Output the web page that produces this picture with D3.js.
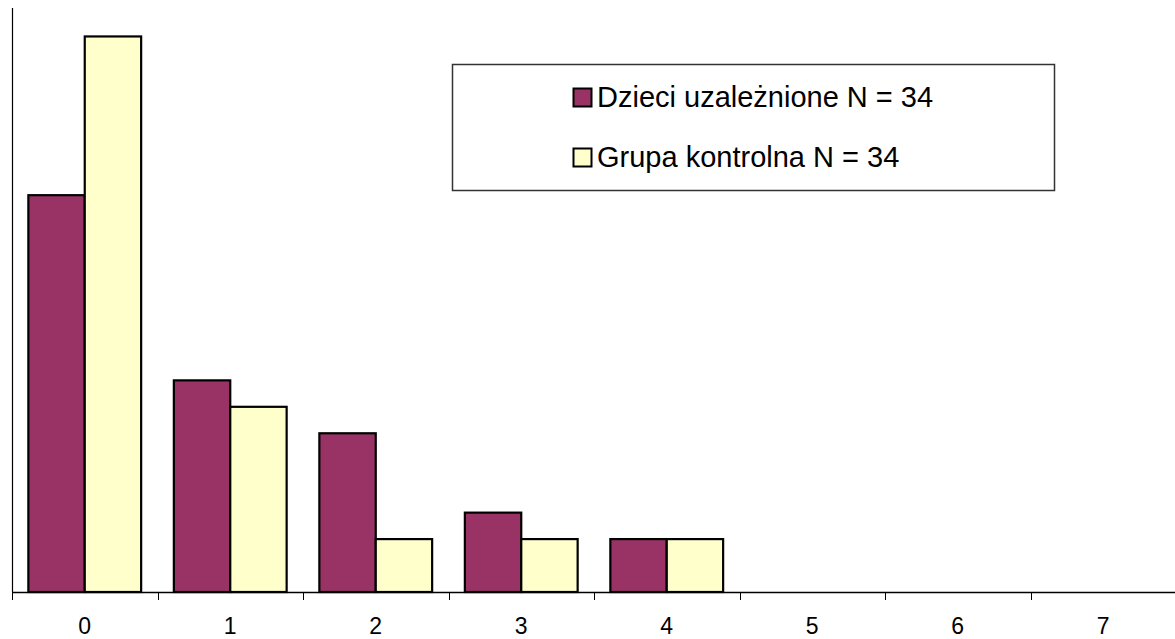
<!DOCTYPE html>
<html>
<head>
<meta charset="utf-8">
<script src="https://cdn.jsdelivr.net/npm/d3@7"></script>
<style>
  html, body { margin: 0; padding: 0; background: #fff; }
  svg { display: block; font-family: "Liberation Sans", Arial, sans-serif; }
</style>
</head>
<body>
<svg id="chart" width="1175" height="639"></svg>
<script>
const categories = ["0", "1", "2", "3", "4", "5", "6", "7"];
const seriesNames = ["Dzieci uzależnione N = 34", "Grupa kontrolna N = 34"];
const addicted = [15, 8, 6, 3, 2, 0, 0, 0];
const control = [21, 7, 2, 2, 2, 0, 0, 0];
const colors = ["#993366", "#FFFFCC"];

const seriesValues = [addicted, control];
const svg = d3.select("#chart");

const x = d3.scaleBand().domain(categories).range([12, 1176]).paddingInner(0).paddingOuter(0);
const xSub = d3.scaleBand().domain(d3.range(seriesNames.length)).range([0, x.bandwidth()]).paddingInner(0).paddingOuter(0.29);
const y = d3.scaleLinear().domain([0, 22]).range([592, 10]);

// bars
seriesValues.forEach((vals, si) => {
  svg.append("g").selectAll("rect")
    .data(vals.map((v, i) => ({ c: categories[i], v })).filter(d => d.v > 0))
    .join("rect")
    .attr("x", d => x(d.c) + xSub(si))
    .attr("y", d => y(d.v))
    .attr("width", xSub.bandwidth())
    .attr("height", d => y(0) - y(d.v))
    .attr("fill", colors[si])
    .attr("stroke", "#000")
    .attr("stroke-width", 2.2);
});

// y axis line (no ticks)
svg.append("line")
  .attr("x1", 12.5).attr("x2", 12.5)
  .attr("y1", 8).attr("y2", y(0))
  .attr("stroke", "#000").attr("stroke-width", 1.2);

// x axis
const xAxisG = svg.append("g").attr("transform", `translate(0,${y(0)})`);
xAxisG.append("line")
  .attr("x1", 12).attr("x2", 1176).attr("y1", 0.5).attr("y2", 0.5)
  .attr("stroke", "#000").attr("stroke-width", 1.5);
xAxisG.selectAll("line.tick")
  .data(categories.concat(["end"]))
  .join("line")
  .attr("class", "tick")
  .attr("x1", (d, i) => Math.round(x.range()[0] + i * x.step()) + 0.5)
  .attr("x2", (d, i) => Math.round(x.range()[0] + i * x.step()) + 0.5)
  .attr("y1", 0).attr("y2", 8)
  .attr("stroke", "#000").attr("stroke-width", 1);
xAxisG.selectAll("text")
  .data(categories)
  .join("text")
  .attr("x", d => x(d) + x.bandwidth() / 2)
  .attr("y", 42)
  .attr("text-anchor", "middle")
  .attr("font-size", 23)
  .attr("fill", "#000")
  .text(d => d);

// legend
const lg = svg.append("g");
lg.append("rect")
  .attr("x", 452.5).attr("y", 64.5).attr("width", 602).attr("height", 126)
  .attr("fill", "#fff").attr("stroke", "#333").attr("stroke-width", 1.5);
const rowY = [88, 148];
seriesNames.forEach((name, i) => {
  lg.append("rect")
    .attr("x", 573.5).attr("y", rowY[i] + 0.5).attr("width", 18).attr("height", 18)
    .attr("fill", colors[i]).attr("stroke", "#000").attr("stroke-width", 2);
  lg.append("text")
    .attr("x", 597).attr("y", rowY[i] + 19)
    .attr("font-size", 29)
    .attr("fill", "#000")
    .text(name);
});
</script>
</body>
</html>
